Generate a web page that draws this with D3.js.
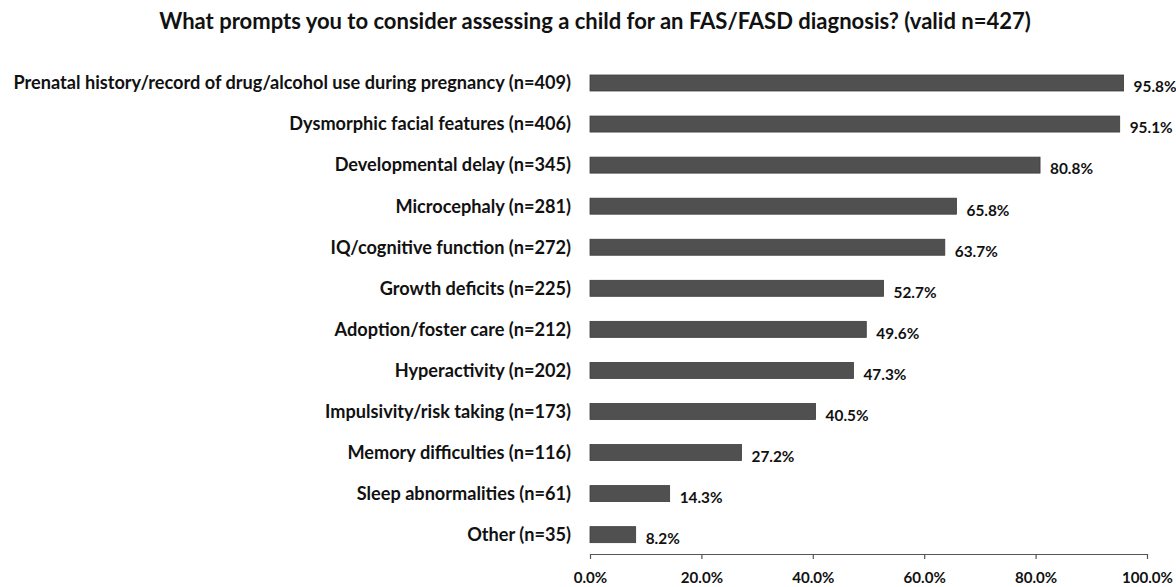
<!DOCTYPE html>
<html><head><meta charset="utf-8">
<script src="https://cdn.jsdelivr.net/npm/d3@7"></script>
<style>body{margin:0;background:#fff}</style>
</head><body>
<svg id="c" width="1176" height="587"></svg>
<script>
const categories = [
  "Prenatal history/record of drug/alcohol use during pregnancy (n=409)",
  "Dysmorphic facial features (n=406)",
  "Developmental delay (n=345)",
  "Microcephaly (n=281)",
  "IQ/cognitive function (n=272)",
  "Growth deficits (n=225)",
  "Adoption/foster care (n=212)",
  "Hyperactivity (n=202)",
  "Impulsivity/risk taking (n=173)",
  "Memory difficulties (n=116)",
  "Sleep abnormalities (n=61)",
  "Other (n=35)"
];
const values = [95.8, 95.1, 80.8, 65.8, 63.7, 52.7, 49.6, 47.3, 40.5, 27.2, 14.3, 8.2];
const tickValues = [0, 20, 40, 60, 80, 100];
const title = "What prompts you to consider assessing a child for an FAS/FASD diagnosis? (valid n=427)";

const svg = d3.select("#c");
const font = "Lato, 'Open Sans', sans-serif";

// size a font so a sample string takes a given width
function fitSize(str, target, weight) {
  const t = svg.append("text").attr("font-family", font).attr("font-weight", weight)
    .attr("font-size", 20).text(str);
  const w = t.node().getComputedTextLength();
  t.remove();
  return 20 * target / w;
}
const catSize = fitSize(categories[0], 558, 700);
const titleSize = fitSize(title, 872, 700);
const valSize = fitSize("95.8%", 43, 700);
const tickSize = fitSize("100.0%", 51, 700);

const x = d3.scaleLinear().domain([0, 100]).range([590, 1147]);
const step = 41.06;
const y = d3.scaleBand().domain(categories)
  .range([83 - step / 2, 83 + step * 11 + step / 2]).paddingInner(16 / step);
y.paddingOuter(y.paddingInner() / 2);

svg.append("text").attr("x", 595).attr("y", 29).attr("text-anchor", "middle")
  .attr("font-family", font).attr("font-weight", 700).attr("font-size", titleSize).attr("fill", "#111")
  .text(title);

svg.selectAll("rect.bar").data(values).join("rect").attr("class", "bar")
  .attr("x", x(0)).attr("y", (d, i) => y(categories[i]) + y.bandwidth() / 2 - 8)
  .attr("width", d => x(d) - x(0)).attr("height", 16)
  .attr("fill", "#505050").attr("stroke", "#3c3c3c").attr("stroke-width", 0.8);

svg.selectAll("text.cat").data(categories).join("text").attr("class", "cat")
  .attr("x", 571).attr("y", d => y(d) + y.bandwidth() / 2).attr("dy", "0.35em")
  .attr("text-anchor", "end").attr("font-family", font).attr("font-weight", 700)
  .attr("font-size", catSize).attr("fill", "#111").text(d => d);

svg.selectAll("text.val").data(values).join("text").attr("class", "val")
  .attr("x", d => x(d) + 10).attr("y", (d, i) => y(categories[i]) + y.bandwidth() / 2 + 4).attr("dy", "0.35em")
  .attr("font-family", font).attr("font-weight", 700).attr("font-size", valSize).attr("fill", "#111")
  .text(d => d.toFixed(1) + "%");

const axis = svg.append("g").attr("transform", "translate(0,554)")
  .call(d3.axisBottom(x).tickValues(tickValues).tickSize(5).tickSizeOuter(0).tickFormat(d => d.toFixed(1) + "%"));
axis.select(".domain").attr("stroke", "#555").attr("stroke-width", 1.2);
axis.selectAll(".tick line").attr("stroke", "#555").attr("stroke-width", 1.2);
axis.selectAll(".tick text").attr("font-family", font).attr("font-weight", 700)
  .attr("font-size", tickSize).attr("fill", "#111").attr("y", 18);
</script>
</body></html>
